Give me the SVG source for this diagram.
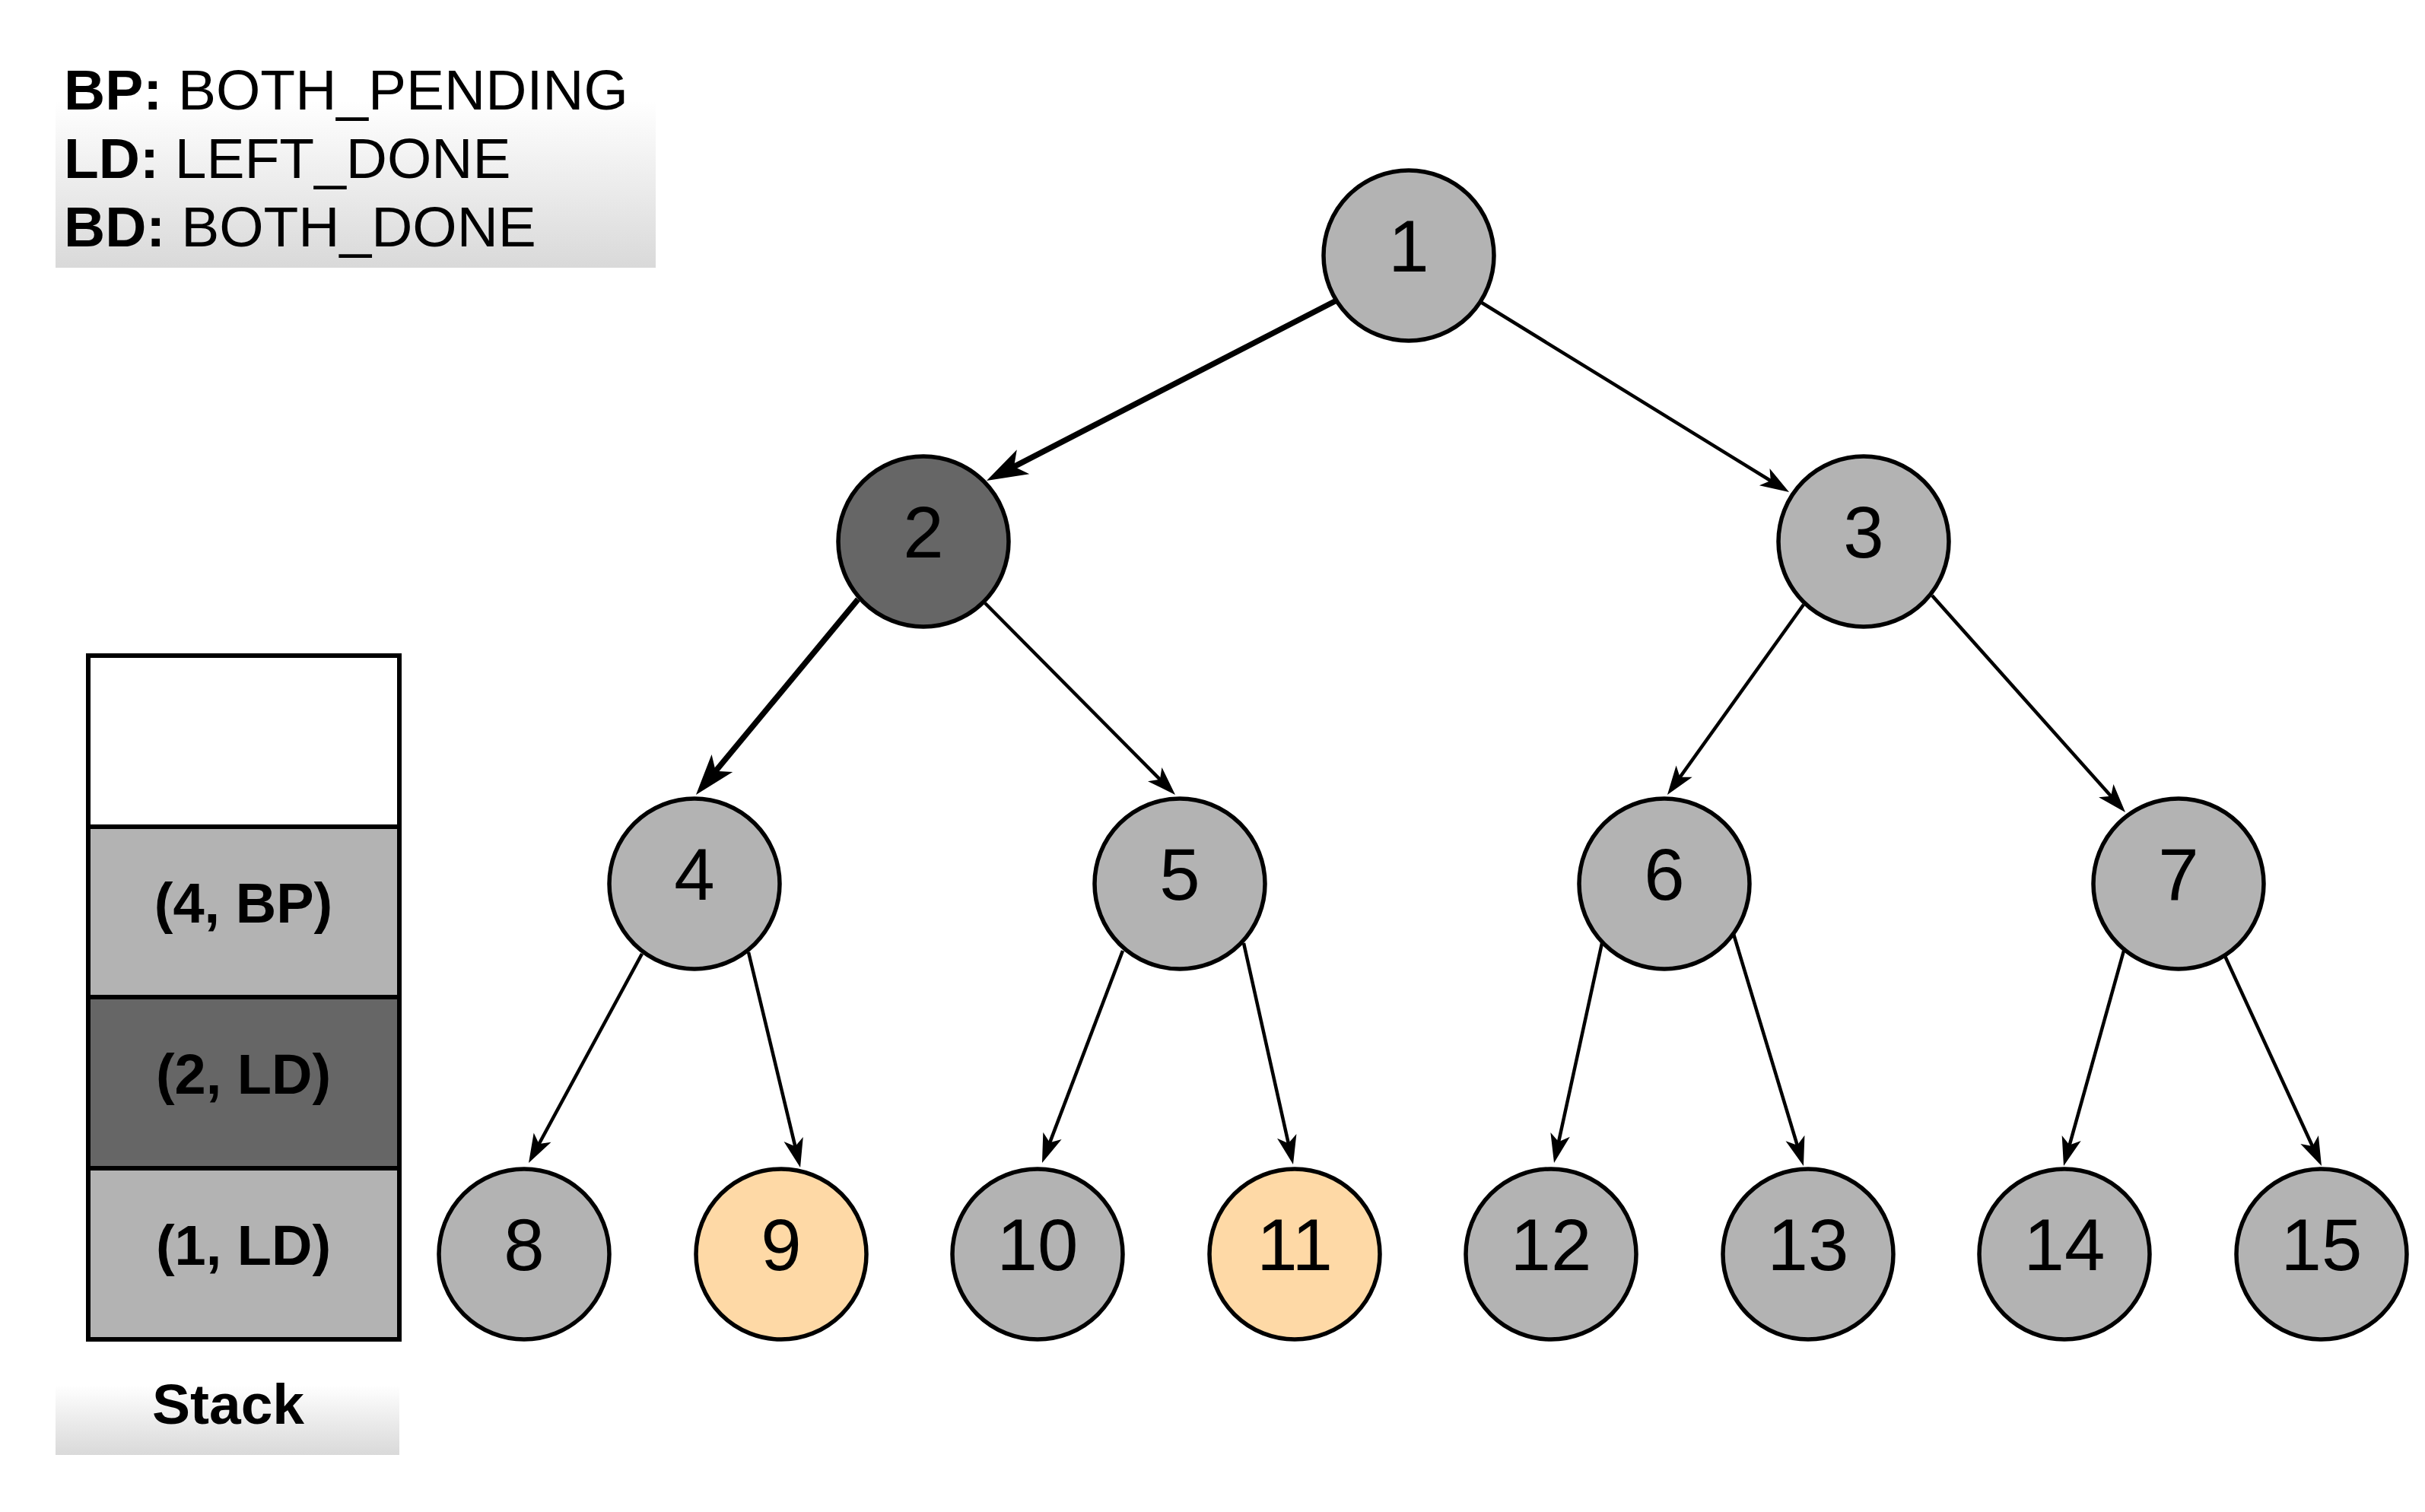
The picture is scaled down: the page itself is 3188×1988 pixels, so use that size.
<svg xmlns="http://www.w3.org/2000/svg" width="3188" height="1988" viewBox="0 0 3188 1988">
  <style>
    .node circle { stroke: #000; stroke-width: 5.5; }
    .gray { fill: #b3b3b3; }
    .dark { fill: #666666; }
    .peach { fill: #fed9a6; }
    .num { font-family: "Liberation Sans", Arial, sans-serif; font-size: 96px; text-anchor: middle; fill: #000; }
    .edge { fill: none; stroke: #000; stroke-width: 4.5; marker-end: url(#arrow); }
    .edge.hot { stroke-width: 7.5; marker-end: url(#arrow-hot); }
    .legend { font-family: "Liberation Sans", Arial, sans-serif; font-size: 75px; fill: #000; }
    .legend .key { font-weight: bold; }
    .cell { stroke: #000; stroke-width: 6; }
    .cell-text { font-family: "Liberation Sans", Arial, sans-serif; font-weight: bold; font-size: 74px; text-anchor: middle; fill: #000; }
  </style>
  <defs>
    <linearGradient id="fade" x1="0" y1="0" x2="0" y2="1">
      <stop offset="0" stop-color="#ffffff"/>
      <stop offset="0.25" stop-color="#ffffff"/>
      <stop offset="1" stop-color="#d9d9d9"/>
    </linearGradient>
    <!-- classic notched arrowheads; the line stops inside the head -->
    <marker id="arrow" markerUnits="userSpaceOnUse" viewBox="0 0 38 26" markerWidth="38" markerHeight="26" refX="16" refY="13" orient="auto" overflow="visible">
      <path d="M38,13 L0,0 L9.5,13 L0,26 Z" fill="#000"/>
    </marker>
    <marker id="arrow-hot" markerUnits="userSpaceOnUse" viewBox="0 0 54 36" markerWidth="54" markerHeight="36" refX="24" refY="18" orient="auto" overflow="visible">
      <path d="M54,18 L0,0 L13.5,18 L0,36 Z" fill="#000"/>
    </marker>
  </defs>

  <rect width="3188" height="1988" fill="#ffffff"/>

  <!-- legend -->
  <g id="legend">
    <rect x="73" y="60" width="789" height="292" fill="url(#fade)"/>
    <text class="legend" x="84" y="144"><tspan class="key">BP:</tspan> BOTH_PENDING</text>
    <text class="legend" x="84" y="234"><tspan class="key">LD:</tspan> LEFT_DONE</text>
    <text class="legend" x="84" y="324"><tspan class="key">BD:</tspan> BOTH_DONE</text>
  </g>

  <!-- stack -->
  <g id="stack">
    <rect class="cell" x="116" y="862" width="409" height="225" fill="#ffffff"/>
    <rect class="cell" x="116" y="1087" width="409" height="224" fill="#b3b3b3"/>
    <rect class="cell" x="116" y="1311" width="409" height="225" fill="#666666"/>
    <rect class="cell" x="116" y="1536" width="409" height="225" fill="#b3b3b3"/>
    <text class="cell-text" x="320" y="1213">(4, BP)</text>
    <text class="cell-text" x="320" y="1438">(2, LD)</text>
    <text class="cell-text" x="320" y="1663">(1, LD)</text>
  </g>
  <g id="stack-label">
    <rect x="73" y="1790" width="452" height="123" fill="url(#fade)"/>
    <text class="cell-text" x="300" y="1872" style="font-size:75px">Stack</text>
  </g>

  <!-- connectors -->
  <g id="edges">
    <line class="edge hot" x1="1757" y1="395" x2="1323.7" y2="618.3"/>
    <line class="edge" x1="1948" y1="398" x2="2333.3" y2="635.5"/>
    <line class="edge hot" x1="1128" y1="788" x2="934.1" y2="1021.9"/>
    <line class="edge" x1="1295" y1="793" x2="1529.5" y2="1029.4"/>
    <line class="edge" x1="2371" y1="795" x2="2204.8" y2="1027.1"/>
    <line class="edge" x1="2540" y1="783" x2="2779.4" y2="1051.6"/>
    <line class="edge" x1="844" y1="1254" x2="705.5" y2="1509.7"/>
    <line class="edge" x1="984" y1="1252" x2="1046.9" y2="1513.6"/>
    <line class="edge" x1="1476" y1="1250" x2="1377.8" y2="1508.4"/>
    <line class="edge" x1="1635" y1="1240" x2="1695.2" y2="1509.5"/>
    <line class="edge" x1="2106" y1="1240" x2="2047.7" y2="1507.5"/>
    <line class="edge" x1="2279" y1="1228" x2="2364.6" y2="1511.9"/>
    <line class="edge" x1="2792" y1="1250" x2="2718.9" y2="1511.8"/>
    <line class="edge" x1="2925" y1="1257" x2="3042.8" y2="1513"/>
  </g>

  <!-- tree nodes -->
  <g id="node-1" class="node"><circle class="gray" cx="1852" cy="336" r="112"/><text class="num" x="1852" y="357">1</text></g>
  <g id="node-2" class="node"><circle class="dark" cx="1214" cy="712" r="112"/><text class="num" x="1214" y="733">2</text></g>
  <g id="node-3" class="node"><circle class="gray" cx="2450" cy="712" r="112"/><text class="num" x="2450" y="733">3</text></g>
  <g id="node-4" class="node"><circle class="gray" cx="913" cy="1162" r="112"/><text class="num" x="913" y="1183">4</text></g>
  <g id="node-5" class="node"><circle class="gray" cx="1551" cy="1162" r="112"/><text class="num" x="1551" y="1183">5</text></g>
  <g id="node-6" class="node"><circle class="gray" cx="2188" cy="1162" r="112"/><text class="num" x="2188" y="1183">6</text></g>
  <g id="node-7" class="node"><circle class="gray" cx="2864" cy="1162" r="112"/><text class="num" x="2864" y="1183">7</text></g>
  <g id="node-8" class="node"><circle class="gray" cx="689" cy="1649" r="112"/><text class="num" x="689" y="1670">8</text></g>
  <g id="node-9" class="node"><circle class="peach" cx="1027" cy="1649" r="112"/><text class="num" x="1027" y="1670">9</text></g>
  <g id="node-10" class="node"><circle class="gray" cx="1364" cy="1649" r="112"/><text class="num" x="1364" y="1670">10</text></g>
  <g id="node-11" class="node"><circle class="peach" cx="1702" cy="1649" r="112"/><text class="num" x="1702" y="1670">11</text></g>
  <g id="node-12" class="node"><circle class="gray" cx="2039" cy="1649" r="112"/><text class="num" x="2039" y="1670">12</text></g>
  <g id="node-13" class="node"><circle class="gray" cx="2377" cy="1649" r="112"/><text class="num" x="2377" y="1670">13</text></g>
  <g id="node-14" class="node"><circle class="gray" cx="2714" cy="1649" r="112"/><text class="num" x="2714" y="1670">14</text></g>
  <g id="node-15" class="node"><circle class="gray" cx="3052" cy="1649" r="112"/><text class="num" x="3052" y="1670">15</text></g>
</svg>
